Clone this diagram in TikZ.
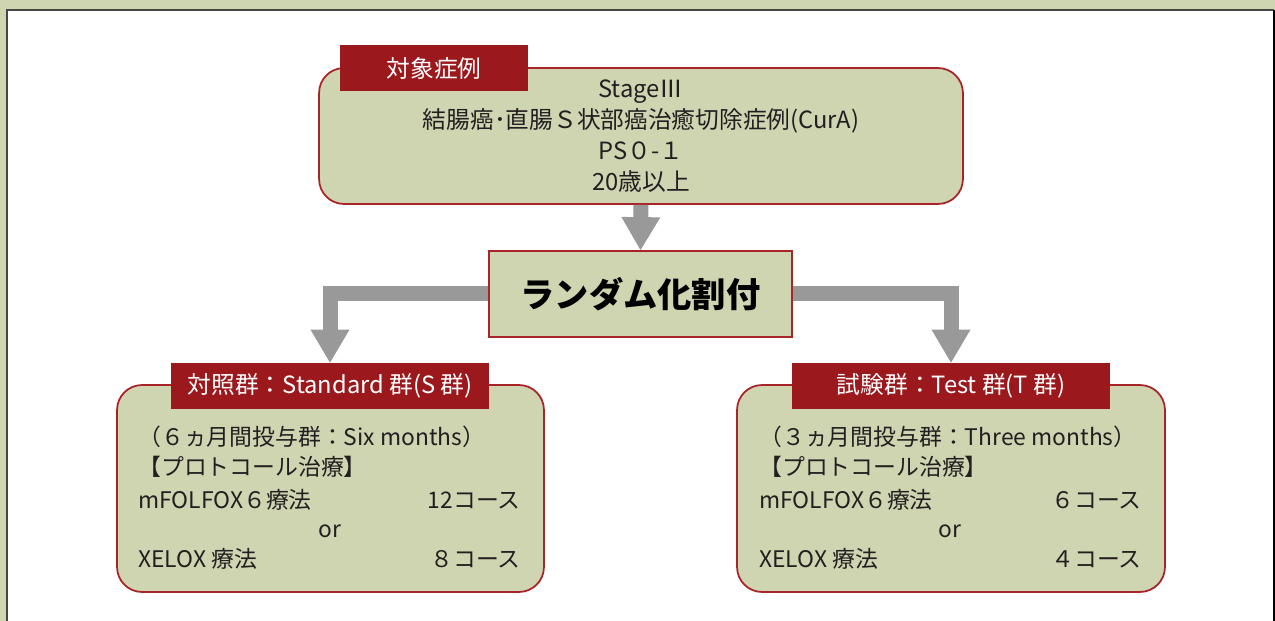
\documentclass[tikz,border=0pt]{standalone}
\usepackage{fontspec}
\setmainfont{Noto Sans CJK JP}
\usetikzlibrary{arrows.meta}

\definecolor{sage}{RGB}{207,212,177}
\definecolor{tabred}{RGB}{155,24,29}
\definecolor{boxred}{RGB}{168,36,40}
\definecolor{arrowgray}{RGB}{153,153,153}
\definecolor{framegray}{RGB}{70,70,70}
\definecolor{ink}{RGB}{35,31,32}

\tikzset{
  casebox/.style={draw=boxred, line width=1pt, fill=sage, rounded corners=0.5cm},
  randbox/.style={draw=boxred, line width=1pt, fill=sage},
  tab/.style={fill=tabred, text=white, minimum height=0.92cm, font=\fontsize{13.5}{15}\selectfont},
  txt/.style={text=ink, inner sep=0, font=\fontsize{13}{15}\selectfont},
  bigarrow/.style={draw=arrowgray, line width=0.3cm, line join=miter,
    -{Triangle[width=0.78cm,length=0.66cm,line width=0pt]}}
}

\begin{document}
\begin{tikzpicture}[x=0.02cm, y=-0.02cm]
  \useasboundingbox (0,0) rectangle (1275,621);
  \fill[sage] (0,0) rectangle (1275,621);
  \fill[white] (7,10) rectangle (1274,630);
  \draw[framegray, line width=0.9pt] (7,630) -- (7,10) -- (1274,10);
  \draw[black, line width=1.2pt] (1274,10) -- (1274,630);

  \node[casebox, minimum width=12.88cm, minimum height=2.72cm, align=center,
    text=ink, font=\fontsize{13.5}{17.6}\selectfont] (cases) at (641,136)
    {StageⅢ\\結腸癌･直腸Ｓ状部癌治癒切除症例(CurA)\\PS０-１\\20歳以上};
  \node[tab, minimum width=3.76cm] (casetab) at (434,68) {対象症例};

  \node[randbox, minimum width=6.06cm, minimum height=1.72cm,
    font=\fontsize{19.5}{22}\selectfont\bfseries, text=black] (rand) at (640.5,294) {ランダム化割付};

  \node[casebox, minimum width=8.54cm, minimum height=4.14cm] (std) at (330.5,488.5) {};
  \node[tab, minimum width=6.36cm] (stdtab) at (330,386) {対照群：Standard 群(S 群)};
  \node[casebox, minimum width=8.56cm, minimum height=4.14cm] (test) at (951,488.5) {};
  \node[tab, minimum width=6.36cm] (testtab) at (951,386) {試験群：Test 群(T 群)};

  \draw[bigarrow] (cases.south) -- (rand.north);
  \draw[bigarrow] (rand.west) -| (stdtab.north);
  \draw[bigarrow] (rand.east) -| (testtab.north);

  \node[txt, anchor=base west] (s1) at (138,446) {（６ヵ月間投与群：Six months）};
  \node[txt, anchor=base west] (s2) at (138,476) {【プロトコール治療】};
  \node[txt, anchor=base west] (s3) at (138,508) {mFOLFOX６療法};
  \node[txt, anchor=base east] (s3n) at (521,508) {12コース};
  \node[txt, anchor=base] (s4) at (330,538) {or};
  \node[txt, anchor=base west] (s5) at (138,567) {XELOX 療法};
  \node[txt, anchor=base east] (s5n) at (521,567) {８コース};

  \node[txt, anchor=base west] (t1) at (759,446) {（３ヵ月間投与群：Three months）};
  \node[txt, anchor=base west] (t2) at (759,476) {【プロトコール治療】};
  \node[txt, anchor=base west] (t3) at (759,508) {mFOLFOX６療法};
  \node[txt, anchor=base east] (t3n) at (1142,508) {６コース};
  \node[txt, anchor=base] (t4) at (950,538) {or};
  \node[txt, anchor=base west] (t5) at (759,567) {XELOX 療法};
  \node[txt, anchor=base east] (t5n) at (1142,567) {４コース};
\end{tikzpicture}
\end{document}
